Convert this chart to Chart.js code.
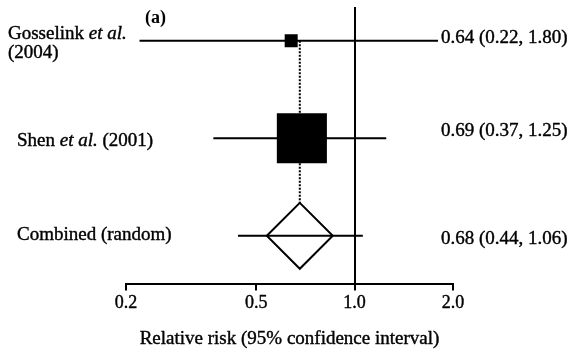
<!DOCTYPE html>
<html>
<head>
<meta charset="utf-8">
<script src="https://cdn.jsdelivr.net/npm/chart.js@4/dist/chart.umd.min.js"></script>
<style>
  html, body { margin: 0; padding: 0; background: #fff; }
  #wrap { width: 574px; height: 356px; }
</style>
</head>
<body>
<div id="wrap"><canvas id="c" width="574" height="356"></canvas></div>
<script>
// ---- data ----
const studyLabels = ["Gosselink *et al.*\n(2004)", "Shen *et al.* (2001)", "Combined (random)"];
const estimates = [0.64, 0.69, 0.68];
const lowerCI   = [0.22, 0.37, 0.44];
const upperCI   = [1.80, 1.25, 1.06];
const rows      = [3, 2, 1];
const xTicks    = [0.2, 0.5, 1.0, 2.0];
const panelTag  = "(a)";
const axisTitle = "Relative risk (95% confidence interval)";

const SERIF = "'Liberation Serif', 'Times New Roman', serif";
const pooled = 2; // index of combined estimate

const datasets = [];
// study squares (drawn on top)
datasets.push({
  label: 'squares', order: 0,
  data: [0, 1].map(i => ({ x: estimates[i], y: rows[i] })),
  pointStyle: 'rect', pointRadius: [9.2, 35.4], pointHoverRadius: [9.2, 35.4],
  backgroundColor: '#000', borderColor: '#000', borderWidth: 0, showLine: false
});
// confidence interval lines
for (let i = 0; i < estimates.length; i++) {
  datasets.push({
    label: 'ci' + i, order: 1,
    data: [{ x: lowerCI[i], y: rows[i] }, { x: upperCI[i], y: rows[i] }],
    showLine: true, borderColor: '#000', borderWidth: 2, pointRadius: 0, pointHoverRadius: 0
  });
}
// pooled diamond
datasets.push({
  label: 'diamond', order: 2,
  data: [{ x: estimates[pooled], y: rows[pooled] }],
  pointStyle: 'rectRot', pointRadius: 33, pointHoverRadius: 33,
  backgroundColor: '#fff', borderColor: '#000', borderWidth: 2, showLine: false
});
// dotted pooled-estimate line
datasets.push({
  label: 'pooledLine', order: 3,
  data: [{ x: estimates[pooled], y: rows[0] }, { x: estimates[pooled], y: rows[pooled] }],
  showLine: true, borderColor: '#000', borderWidth: 2, borderDash: [2, 1.5],
  pointRadius: 0, pointHoverRadius: 0
});

function drawRich(ctx, text, x, y, size) {
  const parts = text.split('*');
  let cx = x;
  parts.forEach((p, k) => {
    ctx.font = (k % 2 ? 'italic ' : '') + size + 'px ' + SERIF;
    ctx.fillText(p, cx, y);
    ctx.strokeText(p, cx, y);
    cx += ctx.measureText(p).width;
  });
}

const labelPlugin = {
  id: 'forestLabels',
  afterDraw(chart) {
    const ctx = chart.ctx;
    const ys = chart.scales.y;
    ctx.save();
    ctx.fillStyle = '#000';
    ctx.strokeStyle = '#000';
    ctx.lineWidth = 0.4;
    ctx.textBaseline = 'middle';
    ctx.textAlign = 'left';
    const leftX = [8, 17, 17];
    const leftDy = [-7, 3, -1];
    const rightDy = [-3, -7, 3];
    for (let i = 0; i < studyLabels.length; i++) {
      const py = ys.getPixelForValue(rows[i]);
      const lines = studyLabels[i].split('\n');
      lines.forEach((ln, j) => drawRich(ctx, ln, leftX[i], py + leftDy[i] + j * 19, 19));
      const summary = estimates[i].toFixed(2) + ' (' + lowerCI[i].toFixed(2) + ', ' + upperCI[i].toFixed(2) + ')';
      drawRich(ctx, summary, 441, py + rightDy[i], 19);
    }
    ctx.font = 'bold 18px ' + SERIF;
    ctx.fillText(panelTag, 145, 18);
    // axis title (drawn here so it can share the heavier text weight)
    ctx.textAlign = 'center';
    ctx.font = '19px ' + SERIF;
    const xs = chart.scales.x;
    const tx = (xs.left + xs.right) / 2;
    ctx.fillText(axisTitle, tx, 339);
    ctx.strokeText(axisTitle, tx, 339);
    ctx.restore();
  }
};

new Chart(document.getElementById('c'), {
  type: 'scatter',
  data: { datasets },
  plugins: [labelPlugin],
  options: {
    responsive: false, animation: false,
    layout: { autoPadding: false, padding: { left: 126, right: 121, top: 7, bottom: 4 } },
    plugins: { legend: { display: false }, tooltip: { enabled: false } },
    scales: {
      x: {
        type: 'logarithmic', min: 0.2, max: 2.0,
        afterBuildTicks: (s) => { s.ticks = xTicks.map(v => ({ value: v })); },
        ticks: {
          autoSkip: false, maxRotation: 0, padding: 2, color: '#000',
          textStrokeColor: '#000', textStrokeWidth: 0.4,
          font: { family: SERIF, size: 18 },
          callback: (v) => Number(v).toFixed(1)
        },
        grid: {
          drawOnChartArea: true, drawTicks: true, tickLength: 7, tickColor: '#000', tickWidth: 2,
          lineWidth: 2,
          color: (c) => (c.tick && c.tick.value === 1) ? '#000' : 'rgba(0,0,0,0)'
        },
        border: { display: true, color: '#000', width: 2 },
        title: {
          display: true, text: axisTitle, color: 'rgba(0,0,0,0)',
          font: { family: SERIF, size: 19 }, padding: { top: 13, bottom: 0 }
        }
      },
      y: {
        type: 'linear', min: 0.51, max: 3.347, display: false
      }
    }
  }
});
</script>
</body>
</html>
